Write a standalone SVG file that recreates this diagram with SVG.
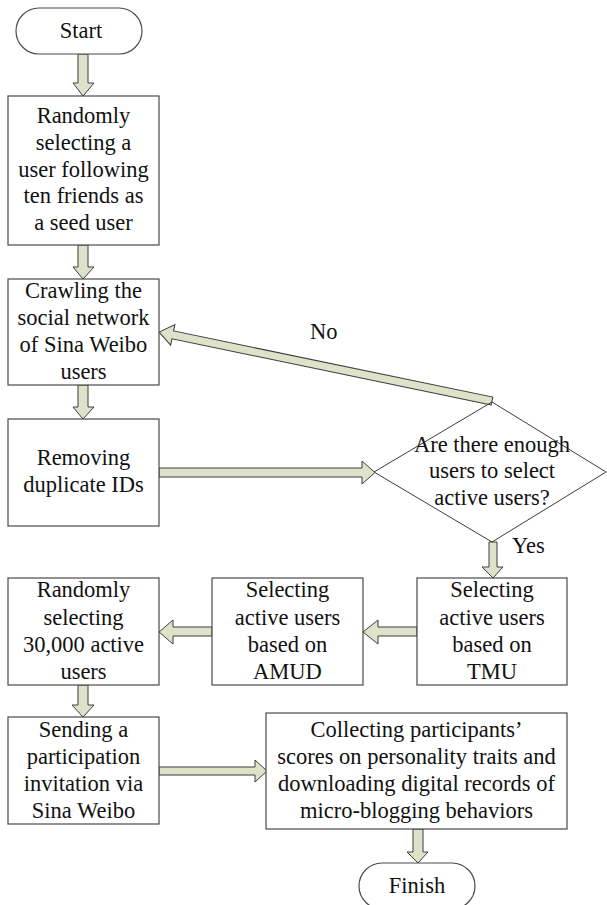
<svg xmlns="http://www.w3.org/2000/svg" width="607" height="905" viewBox="0 0 607 905">
<style>
.box{fill:#ffffff;stroke:#4a4a4a;stroke-width:1.2}
.arr{fill:#dde2c9;stroke:#3c3c3c;stroke-width:1;stroke-linejoin:miter}
.t{font-family:"Liberation Serif","Times New Roman",serif;font-size:22.5px;fill:#111;text-anchor:middle}
.l{font-family:"Liberation Serif","Times New Roman",serif;font-size:22.5px;fill:#111}
</style>
<rect width="607" height="905" fill="#ffffff"/>
<g id="connectors">
<polygon class="arr" points="78,54 88,54 88,83 94,83 83,96 73,83 78,83 78,54"/>
<polygon class="arr" points="78,245 88,245 88,267 94,267 83,279 73,267 78,267"/>
<polygon class="arr" points="78,385 88,385 88,407 94,407 83,419 73,407 78,407"/>
<polygon class="arr" points="159,468 362,468 362,461 375,472.5 362,484 362,477 159,477"/>
<g transform="translate(492,401) rotate(191.7)">
<polygon class="arr" points="0,-4 326,-4 326,-10.5 340,0 326,10.5 326,4 0,4"/>
</g>
<polygon class="arr" points="489,542 497,542 497,567 503,567 493,578 482,567 489,567"/>
<polygon class="arr" points="417,627 378,627 378,620 363,632 378,644 378,636 417,636"/>
<polygon class="arr" points="212,627 173,627 173,620 159,632 173,644 173,636 212,636"/>
<polygon class="arr" points="78,685 88,685 88,705 94,705 83,717 72,705 78,705"/>
<polygon class="arr" points="159,767 255,767 255,760 267,771 255,782 255,775 159,775"/>
<polygon class="arr" points="413,829 423,829 423,852 428,852 418,863 407,852 413,852"/>
<text class="l" x="310" y="339">No</text>
<text class="l" x="512" y="553">Yes</text>
</g>
<g id="start">
<rect class="box" x="16" y="8" width="126" height="46" rx="23" ry="23"/>
<text class="t" x="81" y="38">Start</text>
</g>
<g id="seed">
<rect class="box" x="8" y="96" width="151" height="149"/>
<text class="t" x="83.5" y="123">Randomly</text>
<text class="t" x="83.5" y="150">selecting a</text>
<text class="t" x="83.5" y="177">user following</text>
<text class="t" x="83.5" y="203">ten friends as</text>
<text class="t" x="83.5" y="230">a seed user</text>
</g>
<g id="crawl">
<rect class="box" x="8" y="279" width="151" height="106"/>
<text class="t" x="83.5" y="298">Crawling the</text>
<text class="t" x="83.5" y="325">social network</text>
<text class="t" x="83.5" y="352">of Sina Weibo</text>
<text class="t" x="83.5" y="379">users</text>
</g>
<g id="remove">
<rect class="box" x="8" y="419" width="151" height="107"/>
<text class="t" x="83.5" y="465">Removing</text>
<text class="t" x="83.5" y="492">duplicate IDs</text>
</g>
<g id="decision">
<polygon points="374,472 492,402 606,472 492,542" fill="none" stroke="#3c3c3c" stroke-width="1"/>
<text class="t" x="492" y="452">Are there enough</text>
<text class="t" x="492" y="478">users to select</text>
<text class="t" x="492" y="505">active users?</text>
</g>
<g id="tmu">
<rect class="box" x="417" y="578" width="150" height="107"/>
<text class="t" x="492" y="597">Selecting</text>
<text class="t" x="492" y="625">active users</text>
<text class="t" x="492" y="652">based on</text>
<text class="t" x="492" y="679">TMU</text>
</g>
<g id="amud">
<rect class="box" x="212" y="578" width="151" height="107"/>
<text class="t" x="287.5" y="597">Selecting</text>
<text class="t" x="287.5" y="625">active users</text>
<text class="t" x="287.5" y="652">based on</text>
<text class="t" x="287.5" y="679">AMUD</text>
</g>
<g id="random">
<rect class="box" x="8" y="578" width="151" height="107"/>
<text class="t" x="83.5" y="597">Randomly</text>
<text class="t" x="83.5" y="625">selecting</text>
<text class="t" x="83.5" y="652">30,000 active</text>
<text class="t" x="83.5" y="679">users</text>
</g>
<g id="send">
<rect class="box" x="8" y="717" width="151" height="107"/>
<text class="t" x="83.5" y="737">Sending a</text>
<text class="t" x="83.5" y="764">participation</text>
<text class="t" x="83.5" y="791">invitation via</text>
<text class="t" x="83.5" y="818">Sina Weibo</text>
</g>
<g id="collect">
<rect class="box" x="266" y="713" width="301" height="116"/>
<text class="t" x="416.5" y="737">Collecting participants’</text>
<text class="t" x="416.5" y="764">scores on personality traits and</text>
<text class="t" x="416.5" y="791">downloading digital records of</text>
<text class="t" x="416.5" y="818">micro-blogging behaviors</text>
</g>
<g id="finish">
<rect class="box" x="359" y="863" width="116" height="46" rx="23" ry="23"/>
<text class="t" x="417" y="893">Finish</text>
</g>
</svg>
